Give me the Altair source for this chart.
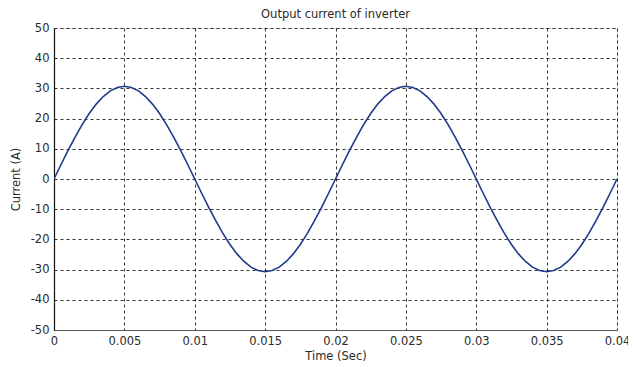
import altair as alt
import pandas as pd

# time samples (s), every 0.0005 s from 0 to 0.04
time_s = [round(i * 0.0005, 4) for i in range(81)]

# current (A)
current_a = [
    0.0, 4.8, 9.5, 13.9, 18.0, 21.7, 24.8, 27.3, 29.2, 30.3,
    30.7, 30.3, 29.2, 27.3, 24.8, 21.7, 18.0, 13.9, 9.5, 4.8,
    0.0, -4.8, -9.5, -13.9, -18.0, -21.7, -24.8, -27.3, -29.2, -30.3,
    -30.7, -30.3, -29.2, -27.3, -24.8, -21.7, -18.0, -13.9, -9.5, -4.8,
    0.0, 4.8, 9.5, 13.9, 18.0, 21.7, 24.8, 27.3, 29.2, 30.3,
    30.7, 30.3, 29.2, 27.3, 24.8, 21.7, 18.0, 13.9, 9.5, 4.8,
    0.0, -4.8, -9.5, -13.9, -18.0, -21.7, -24.8, -27.3, -29.2, -30.3,
    -30.7, -30.3, -29.2, -27.3, -24.8, -21.7, -18.0, -13.9, -9.5, -4.8,
    0.0,
]

x_ticks = [0, 0.005, 0.01, 0.015, 0.02, 0.025, 0.03, 0.035, 0.04]
y_ticks = [-50, -40, -30, -20, -10, 0, 10, 20, 30, 40, 50]

df = pd.DataFrame({"t": time_s, "i": current_a})

FONT = "DejaVu Sans"
FS = 11.5
TXT = "#2a2a2a"

common = dict(
    grid=True,
    gridColor="#000000",
    gridDash=[3, 3],
    gridWidth=0.8,
    gridOpacity=1,
    ticks=False,
    labelFont=FONT,
    labelFontSize=FS,
    labelColor=TXT,
    titleFont=FONT,
    titleFontSize=FS,
    titleFontWeight="normal",
    titleColor=TXT,
    labelFlush=False,
    domainWidth=1.2,
)

chart = (
    alt.Chart(df)
    .mark_line(color="#1f3a8c", strokeWidth=1.6, clip=True)
    .encode(
        x=alt.X(
            "t:Q",
            scale=alt.Scale(domain=[0, 0.04], nice=False, zero=False),
            axis=alt.Axis(
                values=x_ticks,
                labelExpr="datum.value == 0 ? '0' : format(datum.value, '.3~f')",
                title="Time (Sec)",
                labelPadding=5,
                titlePadding=4,
                domainColor="#555555",
                **common,
            ),
        ),
        y=alt.Y(
            "i:Q",
            scale=alt.Scale(domain=[-50, 50], nice=False),
            axis=alt.Axis(
                values=y_ticks,
                labelExpr="replace(format(datum.value, 'd'), '\u2212', '-')",
                title="Current (A)",
                labelPadding=5,
                titlePadding=9,
                domainColor="#111111",
                **common,
            ),
        ),
    )
    .properties(
        width=563,
        height=302,
        title=alt.TitleParams(
            "Output current of inverter",
            font=FONT,
            fontSize=FS,
            fontWeight="normal",
            color=TXT,
            offset=2,
        ),
        autosize=alt.AutoSizeParams(type="none"),
        padding={"left": 54, "top": 28, "right": 11, "bottom": 35},
    )
    .configure_view(stroke="#888888", strokeWidth=1.2)
    .configure(background="white")
)

chart.save("out.html", embed_options={"renderer": "svg", "actions": False})
